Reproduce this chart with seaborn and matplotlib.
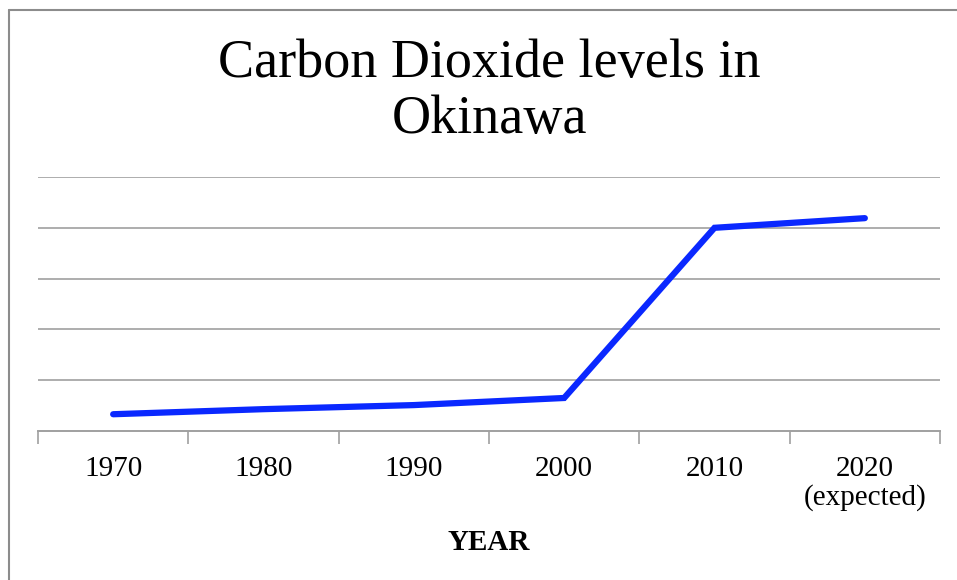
import matplotlib
matplotlib.use("Agg")
import matplotlib.pyplot as plt
import seaborn as sns
import pandas as pd
from matplotlib.lines import Line2D

# values (arbitrary units, gridlines every 1)
years = ["1970", "1980", "1990", "2000", "2010", "2020\n(expected)"]
co2_levels = [0.33, 0.43, 0.51, 0.65, 4.0, 4.19]

df = pd.DataFrame({"year": years, "level": co2_levels})

sns.set_theme(style="white")
plt.rcParams["font.family"] = ["Liberation Serif", "DejaVu Serif"]
plt.rcParams["text.color"] = "black"
plt.rcParams["xtick.color"] = "black"
plt.rcParams["axes.labelcolor"] = "black"

fig = plt.figure(figsize=(9.57, 5.80), dpi=100)
ax = fig.add_axes([38 / 957, 1 - 431 / 580, 902 / 957, 254 / 580])

sns.lineplot(data=df, x="year", y="level", ax=ax, color="#0a28ff",
             linewidth=4.5, sort=False)
for ln in ax.lines:
    ln.set_solid_capstyle("round")
    ln.set_solid_joinstyle("miter")

ax.set_xlim(-0.5, len(years) - 0.5)
ax.set_ylim(0, 5)
ax.set_yticks(range(1, 6))
ax.set_yticklabels([])
ax.tick_params(axis="y", length=0)
ax.yaxis.grid(True, color="#a0a0a0", linewidth=1.2)
ax.set_axisbelow(True)

# category labels centred, tick marks on the bin edges
ax.set_xticks(range(len(years)))
ax.set_xticklabels(years, fontsize=21, linespacing=1.08, va="top")
ax.tick_params(axis="x", which="major", length=0, pad=18, labelcolor="black")
ax.set_xticks([i - 0.5 for i in range(len(years) + 1)], minor=True)
ax.tick_params(axis="x", which="minor", bottom=True, length=9, width=1.2,
               color="#a0a0a0", direction="out")

for s in ["top", "right", "left"]:
    ax.spines[s].set_visible(False)
ax.spines["bottom"].set_color("#a0a0a0")
ax.spines["bottom"].set_linewidth(1.4)

ax.set_xlabel("YEAR", fontsize=21, fontweight="bold", labelpad=13)
ax.set_ylabel("")

fig.text(489 / 957, 1 - 77 / 580, "Carbon Dioxide levels in",
         ha="center", va="baseline", fontsize=39)
fig.text(489 / 957, 1 - 133 / 580, "Okinawa",
         ha="center", va="baseline", fontsize=39)

# outer frame (top and left edges visible in the reference)
fig.add_artist(Line2D([9 / 957, 9 / 957], [0, 1 - 10 / 580],
                      transform=fig.transFigure, color="#8c8c8c", linewidth=1.5))
fig.add_artist(Line2D([9 / 957, 1], [1 - 10 / 580, 1 - 10 / 580],
                      transform=fig.transFigure, color="#8c8c8c", linewidth=1.5))

fig.savefig("out.png", dpi=100)
